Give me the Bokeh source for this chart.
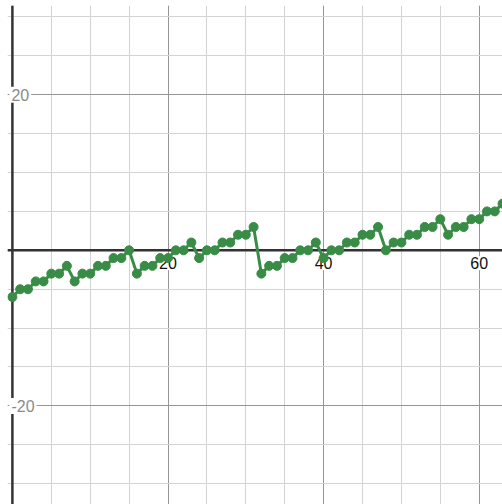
from bokeh.plotting import figure
from bokeh.models import Range1d, Grid, SingleIntervalTicker, Span, ColumnDataSource
from bokeh.core.properties import value
from bokeh.embed import file_html
from bokeh.resources import INLINE

# data
x_vals = list(range(64))
y_vals = [-6, -5, -5, -4, -4, -3, -3, -2,
          -4, -3, -3, -2, -2, -1, -1, 0,
          -3, -2, -2, -1, -1, 0, 0, 1,
          -1, 0, 0, 1, 1, 2, 2, 3,
          -3, -2, -2, -1, -1, 0, 0, 1,
          -1, 0, 0, 1, 1, 2, 2, 3,
          0, 1, 1, 2, 2, 3, 3, 4,
          2, 3, 3, 4, 4, 5, 5, 6]

x_tick_values = [20, 40, 60]
x_tick_labels = ["20", "40", "60"]
y_tick_values = [20, -20]
y_tick_labels = ["20", "-20"]

GREEN = "#388c46"

p = figure(width=502, height=504, output_backend="svg", toolbar_location=None,
           x_range=Range1d(-0.630, 62.995), y_range=Range1d(-32.674, 31.465),
           x_axis_location=None, y_axis_location=None, min_border=0,
           min_border_left=7, min_border_top=5,
           outline_line_color=None, background_fill_color="white")
p.grid.visible = False

for dim in (0, 1):
    g = Grid(dimension=dim, ticker=SingleIntervalTicker(interval=20, num_minor_ticks=4),
             grid_line_color="#959595", grid_line_width=1,
             minor_grid_line_color="#d3d3d3", minor_grid_line_width=1)
    p.add_layout(g)

p.add_layout(Span(location=0, dimension="height", line_color="#333333", line_width=2.5, level="underlay"))
p.add_layout(Span(location=0, dimension="width", line_color="#333333", line_width=2.5, level="underlay"))

xl = ColumnDataSource(dict(x=x_tick_values, y=[0] * len(x_tick_values), t=x_tick_labels))
p.text("x", "y", text="t", source=xl, text_align="center", text_baseline="top",
       y_offset=6, text_font=value("Liberation Sans"), text_font_size="16px",
       text_color="#111111", background_fill_color="white", padding=1)

yl = ColumnDataSource(dict(x=[0] * len(y_tick_values), y=y_tick_values, t=y_tick_labels))
p.text("x", "y", text="t", source=yl, text_align="left", text_baseline="middle",
       x_offset=-3, text_font=value("Liberation Sans"), text_font_size="16px",
       text_color="#8a8a8a", background_fill_color="white", padding=2)

src = ColumnDataSource(dict(x=x_vals, y=y_vals))
p.line("x", "y", source=src, line_color=GREEN, line_width=3)
p.scatter("x", "y", source=src, size=9, fill_color=GREEN, line_color=GREEN)

open("out.html", "w").write(file_html(p, INLINE))
